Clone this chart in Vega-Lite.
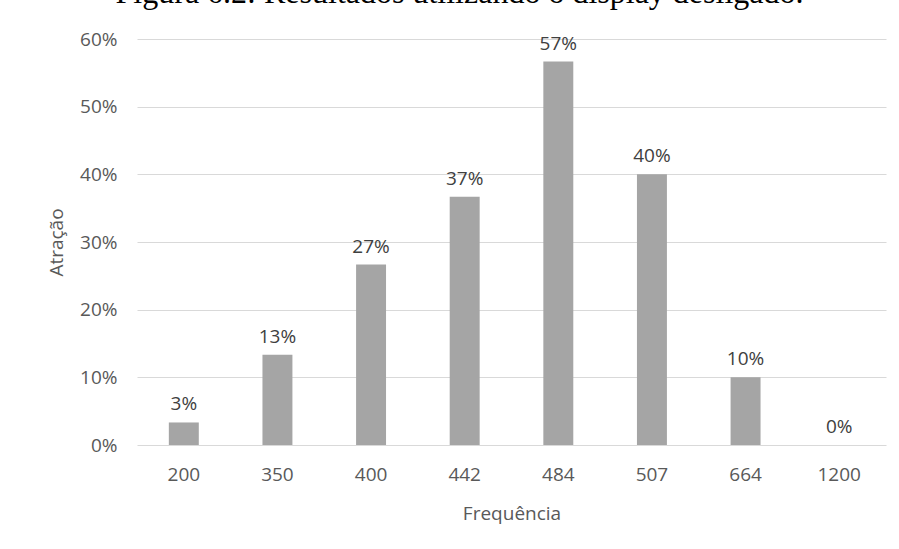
{
  "$schema": "https://vega.github.io/schema/vega-lite/v6.json",
  "width": 749,
  "height": 406,
  "autosize": {"type": "none"},
  "padding": {"left": 137, "top": 39, "right": 13, "bottom": 104},
  "background": "white",
  "title": {
    "text": "Figura 6.2: Resultados utilizando o display desligado.",
    "font": "Liberation Serif",
    "fontSize": 32,
    "fontWeight": "normal",
    "color": "#000000",
    "anchor": "middle",
    "frame": "group",
    "baseline": "alphabetic",
    "offset": -5,
    "dx": -52
  },
  "data": {
    "values": [
      {"frequencia": "200", "atracao": 0.0333},
      {"frequencia": "350", "atracao": 0.1333},
      {"frequencia": "400", "atracao": 0.2667},
      {"frequencia": "442", "atracao": 0.3667},
      {"frequencia": "484", "atracao": 0.5667},
      {"frequencia": "507", "atracao": 0.4},
      {"frequencia": "664", "atracao": 0.1},
      {"frequencia": "1200", "atracao": 0}
    ]
  },
  "encoding": {
    "x": {
      "field": "frequencia",
      "type": "ordinal",
      "sort": null,
      "title": "Frequência",
      "scale": {"paddingInner": 0.68, "paddingOuter": 0.34},
      "axis": {
        "labelAngle": 0,
        "ticks": false,
        "domain": false,
        "labelPadding": 20,
        "titlePadding": 20
      }
    },
    "y": {
      "field": "atracao",
      "type": "quantitative",
      "title": "Atração",
      "scale": {"domain": [0, 0.6], "nice": false},
      "axis": {
        "values": [0, 0.1, 0.2, 0.3, 0.4, 0.5, 0.6],
        "format": ".0%",
        "ticks": false,
        "domain": false,
        "labelPadding": 20,
        "titlePadding": 13
      }
    }
  },
  "layer": [
    {
      "mark": {"type": "bar", "color": "#a5a5a5"}
    },
    {
      "mark": {
        "type": "text",
        "baseline": "bottom",
        "dy": -8,
        "font": "Open Sans",
        "fontSize": 19,
        "color": "#404040"
      },
      "encoding": {
        "text": {"field": "atracao", "type": "quantitative", "format": ".0%"}
      }
    }
  ],
  "config": {
    "view": {"stroke": null},
    "axis": {
      "labelFont": "Open Sans",
      "labelFontSize": 19,
      "labelColor": "#595959",
      "titleFont": "Open Sans",
      "titleFontSize": 19,
      "titleFontWeight": "normal",
      "titleColor": "#595959",
      "gridColor": "#d9d9d9",
      "gridWidth": 1
    },
    "axisX": {"grid": false},
    "axisY": {"grid": true}
  }
}
